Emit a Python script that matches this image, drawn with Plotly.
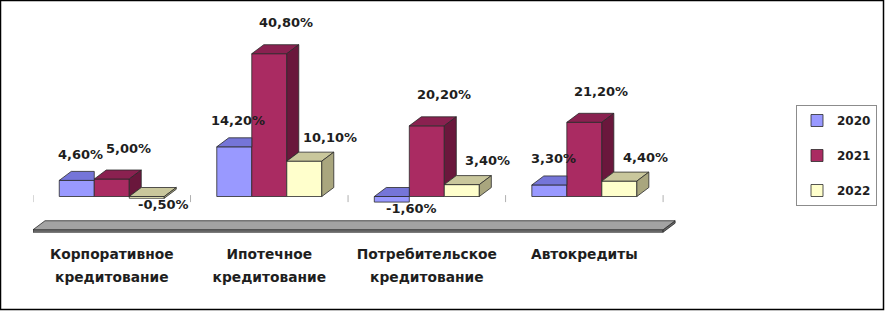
import plotly.graph_objects as go

# ---------------- data ----------------
categories = [
    "Корпоративное кредитование",
    "Ипотечное кредитование",
    "Потребительское кредитование",
    "Автокредиты",
]
years = ["2020", "2021", "2022"]
values_2020 = [4.6, 14.2, -1.6, 3.3]
values_2021 = [5.0, 40.8, 20.2, 21.2]
values_2022 = [-0.5, 10.1, 3.4, 4.4]

# ---------------- style ----------------
W, H = 885, 311
ML, MT = 33, 25
PX_PER_CAT = 157.5
XR = [-0.5, 3.62]
YR = [-11, 49]
PLOT_W = round((XR[1] - XR[0]) * PX_PER_CAT)
PLOT_H = 210
MR = W - ML - PLOT_W
MB = H - MT - PLOT_H
PX_X = PLOT_W / (XR[1] - XR[0])
PX_Y = PLOT_H / (YR[1] - YR[0])
DX = 12 / PX_X          # 3D depth, horizontal
DY = 9 / PX_Y           # 3D depth, vertical
BAR_W = (1 - 1 / 3) / 3
EDGE = "#2a2a2a"
FONT = "DejaVu Sans"

styles = [
    dict(front="#9999FF", top="#7575D8", side="#5C5CB8", dx=4, dxn=20, dy=26),
    dict(front="#AA2B62", top="#8A2150", side="#6A173C", dx=17, dxn=14, dy=31),
    dict(front="#FFFFCC", top="#C9C79C", side="#A9A67E", dx=26, dxn=17, dy=24),
]
series = [values_2020, values_2021, values_2022]

fig = go.Figure()

# front faces: real bars
for k, (name, vals, st) in enumerate(zip(years, series, styles)):
    fig.add_trace(go.Bar(
        x=list(range(len(categories))), y=vals, name=name, legendgroup=name,
        width=BAR_W, offset=-1.5 * BAR_W + k * BAR_W,
        marker=dict(color=st["front"], line=dict(color=EDGE, width=0.8)),
        hoverinfo="skip",
    ))


def poly(xs, ys, color, lw=0.8, lc=EDGE):
    fig.add_trace(go.Scatter(
        x=xs + [xs[0]], y=ys + [ys[0]], mode="lines", fill="toself",
        fillcolor=color, line=dict(color=lc, width=lw),
        showlegend=False, hoverinfo="skip"))


# floor
FY, FT = -9.5, 0.7
x_a, x_b = XR[0], XR[0] + len(categories)
poly([x_a, x_b, x_b, x_a], [FY, FY, FY - FT, FY - FT], "#7d7d7d")
poly([x_b, x_b + DX, x_b + DX, x_b], [FY, FY + DY, FY + DY - FT, FY - FT], "#6a6a6a")
poly([x_a, x_b, x_b + DX, x_a + DX], [FY, FY, FY + DY, FY + DY], "#a3a3a3")

# small category dividers
tx, ty = [], []
for i in range(len(categories) + 1):
    tx += [XR[0] + i, XR[0] + i, None]
    ty += [0.4, -1.6, None]
fig.add_trace(go.Scatter(x=tx, y=ty, mode="lines", line=dict(color="#b0b0b0", width=1),
                         showlegend=False, hoverinfo="skip"))

# top and side faces (painter order, clipped by the next bar's front)
for i in range(len(categories)):
    for k in range(3):
        v = series[k][i]
        st = styles[k]
        x0 = i - 1.5 * BAR_W + k * BAR_W
        x1 = x0 + BAR_W
        t = max(v, 0)
        b0 = min(v, 0)
        nt = max(series[k + 1][i], 0) if k < 2 else None
        # top face
        if nt is not None and nt > t:
            poly([x0, x1, x1, x0 + DX], [t, t, t + DY, t + DY], st["top"])
        else:
            poly([x0, x1, x1 + DX, x0 + DX], [t, t, t + DY, t + DY], st["top"])
        # side face
        if nt is not None and nt >= t:
            continue
        base = b0 if nt is None else max(b0, nt)
        poly([x1, x1 + DX, x1 + DX, x1], [base, base + DY, t + DY, t], st["side"])

# data labels
for k, (vals, st) in enumerate(zip(series, styles)):
    for i, v in enumerate(vals):
        xc = i - 1.5 * BAR_W + k * BAR_W + BAR_W / 2
        txt = f"{v:.2f}".replace(".", ",") + "%"
        if v >= 0:
            fig.add_annotation(x=xc, y=v, text=txt, showarrow=False, xshift=st["dx"],
                               yshift=st["dy"], yanchor="middle",
                               font=dict(family=FONT, size=13, color="#1e1e1e", weight="bold"))
        else:
            fig.add_annotation(x=xc, y=v, text=txt, showarrow=False, xshift=st["dxn"],
                               yshift=-6, yanchor="middle",
                               font=dict(family=FONT, size=13, color="#1e1e1e", weight="bold"))

ticktext = ["<br>".join(f"<span style='font-size:13.8px'>{w}</span>"
                        for w in (c.split(" ") if " " in c else [c])) for c in categories]


def px2paper_x(px):
    return (px - ML) / PLOT_W


def px2paper_y(py):
    return (H - MB - py) / PLOT_H


fig.add_shape(type="rect", xref="paper", yref="paper",
              x0=px2paper_x(0.5), x1=px2paper_x(883.5), y0=px2paper_y(309.5), y1=px2paper_y(0.5),
              line=dict(color="#000000", width=1.5), layer="above")

fig.update_layout(
    width=W, height=H, margin=dict(l=ML, r=MR, t=MT, b=MB, autoexpand=False),
    paper_bgcolor="white", plot_bgcolor="white",
    barmode="overlay", showlegend=True,
    xaxis=dict(range=XR, tickvals=list(range(len(categories))), ticktext=ticktext,
               showgrid=False, zeroline=False, showline=False, ticks="",
               ticklabelstandoff=5,
               tickfont=dict(family=FONT, size=17.8, color="#1e1e1e", weight="bold"),
               fixedrange=True),
    yaxis=dict(range=YR, visible=False, fixedrange=True),
    legend=dict(x=px2paper_x(796), y=px2paper_y(105), xanchor="left", yanchor="top",
                bordercolor="#8c8c8c", borderwidth=1, bgcolor="white",
                tracegroupgap=16,
                font=dict(family=FONT, size=12, color="#1e1e1e", weight="bold")),
)

fig.write_html("out.html", config={"displayModeBar": False},
               post_script="document.body.style.margin='0';document.body.style.overflow='hidden';")
